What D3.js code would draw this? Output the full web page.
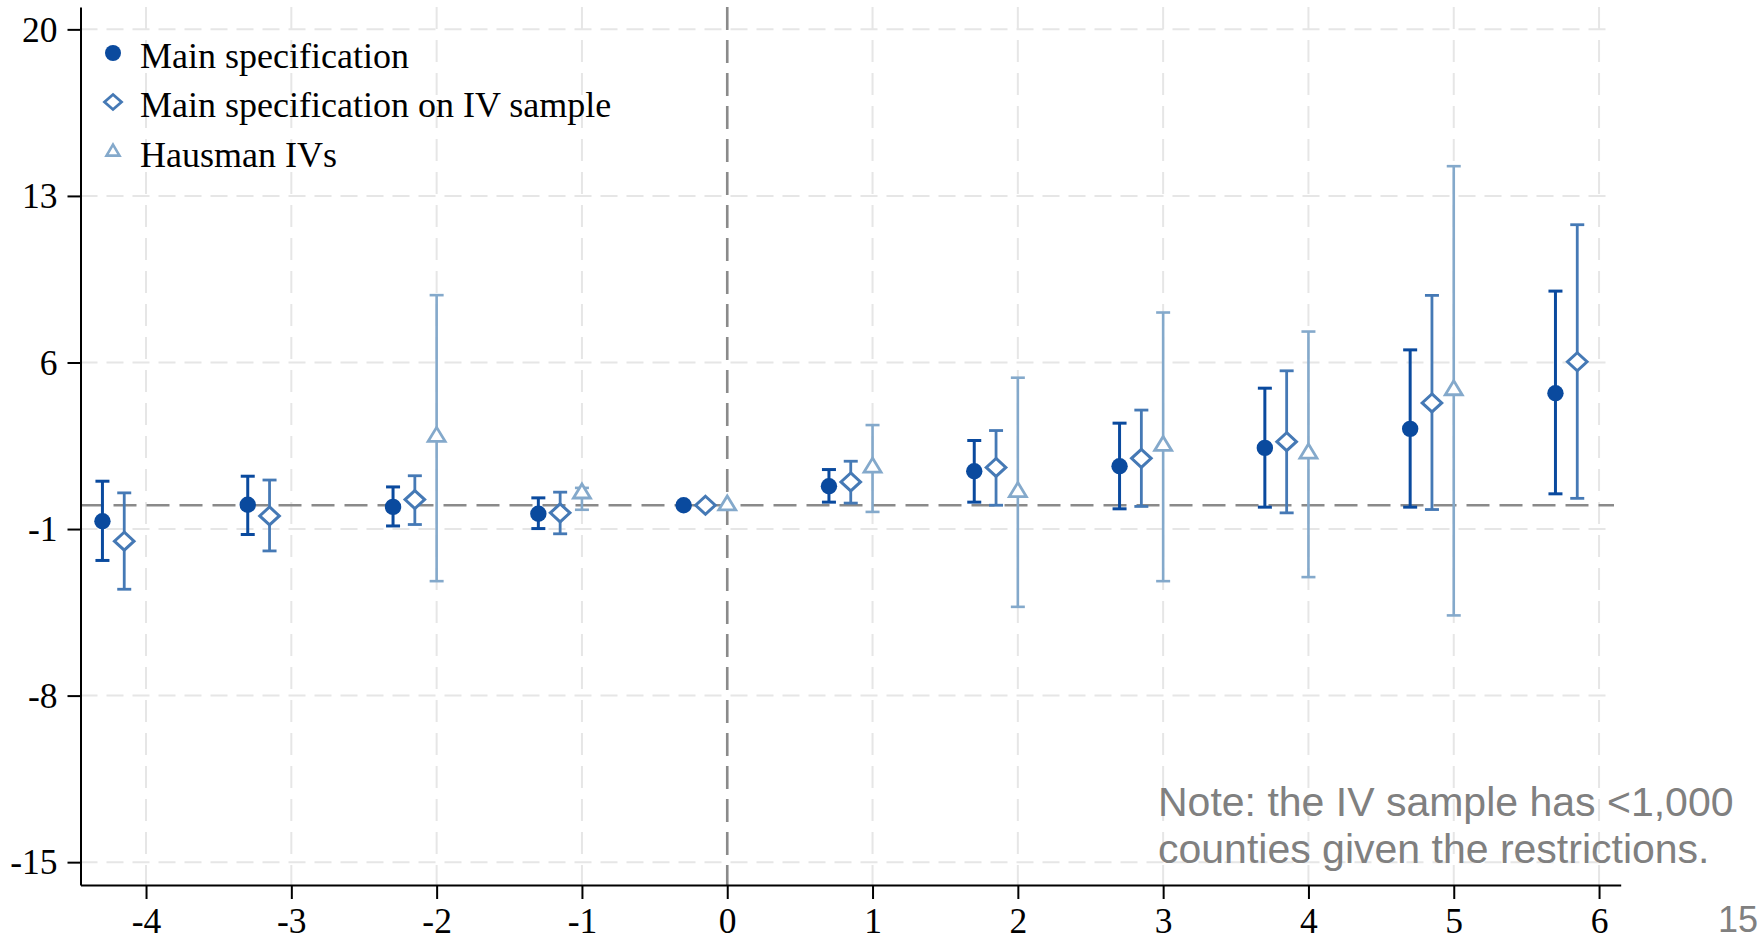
<!DOCTYPE html>
<html>
<head>
<meta charset="utf-8">
<script src="https://cdn.jsdelivr.net/npm/d3@7"></script>
<style>
  html, body { margin: 0; padding: 0; background: #ffffff; }
  svg { display: block; }
</style>
</head>
<body>
<svg id="chart" width="1764" height="941"></svg>
<script>
// Event-study periods and axis ticks
const periods = [-4, -3, -2, -1, 0, 1, 2, 3, 4, 5, 6];
const yTicks = [20, 13, 6, -1, -8, -15];

// Main specification: point estimates and 95% CI bounds (period 0 is the omitted base)
const mainEst = [-0.67, 0.02, -0.07, -0.36, 0, 0.80, 1.43, 1.64, 2.41, 3.21, 4.71];
const mainLo  = [-2.32, -1.23, -0.87, -0.98, null, 0.13, 0.13, -0.15, -0.08, -0.08, 0.48];
const mainHi  = [1.01, 1.22, 0.77, 0.31, null, 1.50, 2.72, 3.45, 4.92, 6.53, 9.00];

// Main specification estimated on the IV sample
const ivEst = [-1.51, -0.45, 0.24, -0.32, 0, 0.98, 1.59, 1.97, 2.67, 4.30, 6.03];
const ivLo  = [-3.53, -1.92, -0.81, -1.20, null, 0.09, 0.00, -0.05, -0.32, -0.18, 0.29];
const ivHi  = [0.52, 1.06, 1.24, 0.55, null, 1.85, 3.14, 4.00, 5.65, 8.82, 11.79];

// Hausman IV estimates (available from period -2 to 5)
const hausPeriods = [-2, -1, 0, 1, 2, 3, 4, 5];
const hausEst = [2.88, 0.50, 0, 1.59, 0.56, 2.50, 2.18, 4.84];
const hausLo  = [-3.19, -0.19, null, -0.28, -4.27, -3.19, -3.02, -4.63];
const hausHi  = [8.83, 0.73, null, 3.37, 5.36, 8.10, 7.30, 14.25];

const seriesNames = ["Main specification", "Main specification on IV sample", "Hausman IVs"];
const noteLines = ["Note: the IV sample has <1,000", "counties given the restrictions."];
const pageNumber = "15";

// ---- layout & style ----
const colMain = "#0a4a9e";
const colIV = "#4579b5";
const colHaus = "#84a9cb";
const serif = "'Liberation Serif', 'Times New Roman', serif";
const sans = "'Liberation Sans', Arial, sans-serif";

const svg = d3.select("#chart");

const x = d3.scaleLinear().domain([-4.451, 6.149]).range([80.5, 1620.7]);
const y = d3.scaleLinear().domain([20.94, -15.96]).range([7, 885]);

// plain hyphen for negative tick labels
const tickFmt = d => String(d);

// offsets within each period group
const offMain = -0.30, offIV = -0.15, offHaus = 0;

// ---- gridlines ----
const grid = svg.append("g");
grid.selectAll("line.hg").data(yTicks).join("line")
  .attr("x1", x.range()[0]).attr("x2", 1613)
  .attr("y1", d => y(d)).attr("y2", d => y(d))
  .attr("stroke", "#e6e6e6").attr("stroke-width", 2)
  .attr("stroke-dasharray", "17,9");
grid.selectAll("line.vg").data(periods).join("line")
  .attr("x1", d => x(d)).attr("x2", d => x(d))
  .attr("y1", y.range()[0]).attr("y2", y.range()[1])
  .attr("stroke", "#e6e6e6").attr("stroke-width", 2)
  .attr("stroke-dasharray", "22,11");

// ---- reference lines at 0 ----
svg.append("line")
  .attr("x1", x.range()[0]).attr("x2", 1614)
  .attr("y1", y(0)).attr("y2", y(0))
  .attr("stroke", "#8a8a8a").attr("stroke-width", 2.6)
  .attr("stroke-dasharray", "23,10");
svg.append("line")
  .attr("x1", x(0)).attr("x2", x(0))
  .attr("y1", y.range()[0]).attr("y2", y.range()[1])
  .attr("stroke", "#8a8a8a").attr("stroke-width", 2.6)
  .attr("stroke-dasharray", "23,10");

// ---- axes ----
const yAxis = d3.axisLeft(y).tickValues(yTicks).tickSize(13).tickSizeOuter(0).tickPadding(10)
  .tickFormat(tickFmt);
const gy = svg.append("g").attr("transform", `translate(${x.range()[0]},0)`).call(yAxis);
gy.select(".domain").attr("stroke", "#000").attr("stroke-width", 2);
gy.selectAll(".tick line").attr("stroke", "#000").attr("stroke-width", 2);
gy.selectAll(".tick text").attr("font-family", serif).attr("font-size", 35.5)
  .attr("fill", "#000").attr("dy", "0.33em");

const xAxis = d3.axisBottom(x).tickValues(periods).tickSize(14).tickSizeOuter(0).tickPadding(9)
  .tickFormat(tickFmt);
const gx = svg.append("g").attr("transform", `translate(0,${y.range()[1]})`).call(xAxis);
gx.select(".domain").attr("stroke", "#000").attr("stroke-width", 2);
gx.selectAll(".tick line").attr("stroke", "#000").attr("stroke-width", 2);
gx.selectAll(".tick text").attr("font-family", serif).attr("font-size", 35.5).attr("fill", "#000");

// ---- series ----
function rows(ps, est, lo, hi, off) {
  return ps.map((p, i) => ({ px: p + off, est: est[i], lo: lo[i], hi: hi[i] }));
}
const mainRows = rows(periods, mainEst, mainLo, mainHi, offMain);
const ivRows = rows(periods, ivEst, ivLo, ivHi, offIV);
const hausRows = rows(hausPeriods, hausEst, hausLo, hausHi, offHaus);

function drawCI(data, color, width) {
  const g = svg.append("g").attr("stroke", color).attr("stroke-width", width).attr("fill", "none");
  const withCI = data.filter(d => d.lo !== null);
  const capHalf = 7;
  g.selectAll("line.v").data(withCI).join("line")
    .attr("x1", d => x(d.px)).attr("x2", d => x(d.px))
    .attr("y1", d => y(d.lo)).attr("y2", d => y(d.hi));
  g.selectAll("line.top").data(withCI).join("line")
    .attr("x1", d => x(d.px) - capHalf).attr("x2", d => x(d.px) + capHalf)
    .attr("y1", d => y(d.hi)).attr("y2", d => y(d.hi));
  g.selectAll("line.bot").data(withCI).join("line")
    .attr("x1", d => x(d.px) - capHalf).attr("x2", d => x(d.px) + capHalf)
    .attr("y1", d => y(d.lo)).attr("y2", d => y(d.lo));
}

const diamondPath = (w, h) => `M0,${-h} L${w},0 L0,${h} L${-w},0 Z`;
const trianglePath = (w, h) => `M0,${-2 * h / 3} L${w / 2},${h / 3} L${-w / 2},${h / 3} Z`;

drawCI(hausRows, colHaus, 2.6);
drawCI(ivRows, colIV, 2.8);
drawCI(mainRows, colMain, 3);

svg.append("g").selectAll("path").data(hausRows).join("path")
  .attr("d", trianglePath(17, 14))
  .attr("transform", d => `translate(${x(d.px)},${y(d.est)})`)
  .attr("fill", "#ffffff").attr("stroke", colHaus).attr("stroke-width", 2.8);

svg.append("g").selectAll("path").data(ivRows).join("path")
  .attr("d", diamondPath(9.8, 9))
  .attr("transform", d => `translate(${x(d.px)},${y(d.est)})`)
  .attr("fill", "#ffffff").attr("stroke", colIV).attr("stroke-width", 3);

svg.append("g").selectAll("circle").data(mainRows).join("circle")
  .attr("cx", d => x(d.px)).attr("cy", d => y(d.est)).attr("r", 8.2)
  .attr("fill", colMain);

// ---- legend ----
const legend = svg.append("g");
const legendMarkX = 113, legendTextX = 140;
const legendRowsY = [53, 102, 152];
legend.append("circle").attr("cx", legendMarkX).attr("cy", legendRowsY[0]).attr("r", 8).attr("fill", colMain);
legend.append("path").attr("d", diamondPath(8.5, 7.5))
  .attr("transform", `translate(${legendMarkX},${legendRowsY[1]})`)
  .attr("fill", "#fff").attr("stroke", colIV).attr("stroke-width", 2.8);
legend.append("path").attr("d", trianglePath(13, 11))
  .attr("transform", `translate(${legendMarkX},${legendRowsY[2]})`)
  .attr("fill", "#fff").attr("stroke", colHaus).attr("stroke-width", 2.6);
legend.selectAll("text").data(seriesNames).join("text")
  .attr("x", legendTextX).attr("y", (d, i) => legendRowsY[i] + 15)
  .attr("font-family", serif).attr("font-size", 36).attr("fill", "#000")
  .text(d => d);

// ---- note and page number ----
svg.append("g").selectAll("text").data(noteLines).join("text")
  .attr("x", 1158).attr("y", (d, i) => 816 + i * 47)
  .attr("font-family", sans).attr("font-size", 41).attr("fill", "#808080")
  .text(d => d);

svg.append("text").attr("x", 1738).attr("y", 932).attr("text-anchor", "middle")
  .attr("font-family", sans).attr("font-size", 36).attr("fill", "#808080")
  .text(pageNumber);
</script>
</body>
</html>
